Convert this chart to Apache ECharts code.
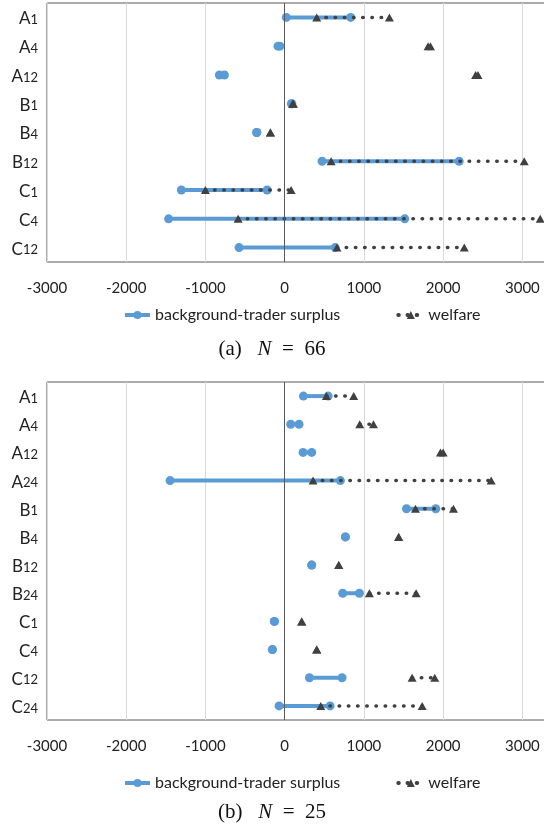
<!DOCTYPE html>
<html>
<head>
<meta charset="utf-8">
<script src="https://cdn.jsdelivr.net/npm/echarts@6/dist/echarts.min.js"></script>
<style>
  html, body { margin: 0; padding: 0; background: #fff; }
  #chart { width: 544px; height: 825px; }
</style>
</head>
<body>
<div id="chart"></div>
<script>
// top panel (N = 66)
const catsA = ['A1', 'A4', 'A12', 'B1', 'B4', 'B12', 'C1', 'C4', 'C12'];
const surplusLowA  = [20, -85, -824, 85, -353, 472, -1304, -1465, -576];
const surplusHighA = [833, -60, -761, 90, -353, 2202, -222, 1515, 637];
const welfareLowA  = [404, 1810, 2410, 100, -180, 586, -1001, -588, 660];
const welfareHighA = [1322, 1840, 2440, 110, -180, 3023, 81, 3225, 2267];

// bottom panel (N = 25)
const catsB = ['A1', 'A4', 'A12', 'A24', 'B1', 'B4', 'B12', 'B24', 'C1', 'C4', 'C12', 'C24'];
const surplusLowB  = [236, 76, 232, -1447, 1537, 766, 341, 732, -130, -155, 312, -71];
const surplusHighB = [548, 181, 341, 703, 1907, 766, 341, 943, -130, -155, 724, 573];
const welfareLowB  = [526, 947, 1966, 358, 1650, 1439, 682, 1069, 215, 404, 1608, 455];
const welfareHighB = [871, 1120, 2000, 2606, 2130, 1439, 682, 1659, 215, 404, 1894, 1735];

const xTicks = [-3000, -2000, -1000, 0, 1000, 2000, 3000];

const SURPLUS = 'background-trader surplus';
const WELFARE = 'welfare';
const blue = '#5b9bd5';
const dark = '#404040';
const font = 'Lato';

const chart = echarts.init(document.getElementById('chart'));

function makeSeries(idx, cats, sLo, sHi, wLo, wHi) {
  const out = [];
  cats.forEach((c, i) => {
    out.push({
      name: SURPLUS, type: 'line', xAxisIndex: idx, yAxisIndex: idx,
      data: [[sLo[i], c], [sHi[i], c]],
      symbol: 'circle', symbolSize: 9,
      itemStyle: { color: blue },
      lineStyle: { color: blue, width: 4 },
      z: 3
    });
  });
  cats.forEach((c, i) => {
    out.push({
      name: WELFARE, type: 'line', xAxisIndex: idx, yAxisIndex: idx,
      data: [[wLo[i], c], [wHi[i], c]],
      symbol: 'triangle', symbolSize: [9, 8],
      itemStyle: { color: dark },
      lineStyle: { color: dark, width: 3.5, type: [0.5, 8.7], cap: 'round' },
      z: 4
    });
  });
  // vertical line at zero
  out.push({
    type: 'line', xAxisIndex: idx, yAxisIndex: idx, data: [], silent: true,
    markLine: {
      silent: true, symbol: 'none', label: { show: false },
      lineStyle: { color: '#595959', type: 'solid', width: 1 },
      data: [{ xAxis: 0 }]
    },
    z: 2
  });
  return out;
}

const xAxisBase = {
  type: 'value', min: -3000, max: 3500, interval: 1000,
  axisLine: { show: false }, axisTick: { show: false },
  axisLabel: {
    showMaxLabel: false, margin: 19,
    color: '#222', fontFamily: font, fontSize: 15,
    formatter: v => xTicks.indexOf(v) >= 0 ? String(v) : ''
  },
  splitLine: { lineStyle: { color: '#d9d9d9', width: 1 } }
};

function yAxisFor(cats, gi) {
  return {
    type: 'category', gridIndex: gi, data: cats, inverse: true,
    axisLine: { show: false }, axisTick: { show: false },
    splitLine: { show: false },
    axisLabel: {
      margin: 9,
      formatter: v => '{l|' + v[0] + '}{d|' + v.slice(1) + '}',
      rich: {
        l: { fontFamily: font, fontSize: 17, color: '#222', verticalAlign: 'bottom', lineHeight: 20 },
        d: { fontFamily: font, fontSize: 13, color: '#222', verticalAlign: 'bottom', lineHeight: 20,
             padding: [0, 0, 1, 0] }
      }
    }
  };
}

const legendBase = {
  left: 118, itemWidth: 25, itemHeight: 10, itemGap: 56,
  lineStyle: { width: 4 },
  textStyle: { fontFamily: font, fontSize: 16, color: '#222' },
  data: [SURPLUS, WELFARE]
};

function caption(text, top) {
  return {
    left: 'center', top: top, text: text,
    textStyle: {
      fontFamily: 'Liberation Serif', fontSize: 21, fontWeight: 'normal', color: '#111',
      rich: { i: { fontFamily: 'Liberation Serif', fontStyle: 'italic', fontSize: 21, color: '#111' } }
    }
  };
}

const option = {
  animation: false,
  backgroundColor: '#fff',
  title: [
    caption('(a)   {i|N}  =  66', 334),
    caption('(b)   {i|N}  =  25', 797)
  ],
  grid: [
    { left: 47, width: 515, top: 3, height: 259, outerBoundsMode: 'none',
      show: true, borderColor: '#595959', borderWidth: 1 },
    { left: 47, width: 515, top: 382, height: 338, outerBoundsMode: 'none',
      show: true, borderColor: '#595959', borderWidth: 1 }
  ],
  xAxis: [
    Object.assign({ gridIndex: 0 }, xAxisBase),
    Object.assign({ gridIndex: 1 }, xAxisBase)
  ],
  yAxis: [yAxisFor(catsA, 0), yAxisFor(catsB, 1)],
  legend: [
    Object.assign({ top: 302 }, legendBase),
    Object.assign({ top: 770 }, legendBase)
  ],
  series: makeSeries(0, catsA, surplusLowA, surplusHighA, welfareLowA, welfareHighA)
    .concat(makeSeries(1, catsB, surplusLowB, surplusHighB, welfareLowB, welfareHighB))
};

chart.setOption(option);
</script>
</body>
</html>
